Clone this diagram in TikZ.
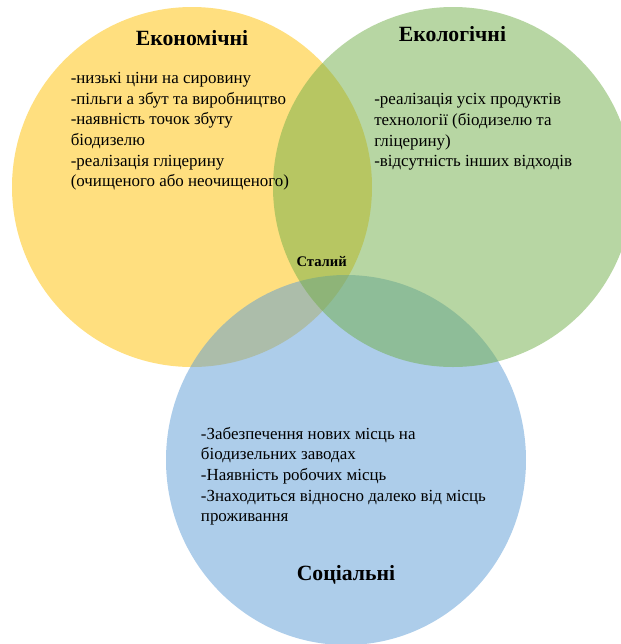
\documentclass[tikz,border=0pt]{standalone}
\usepackage{fontspec}
\setmainfont{Liberation Serif}
\usepackage{tikz}
\definecolor{econcol}{HTML}{FFC000}
\definecolor{ecolcol}{HTML}{70AD47}
\definecolor{soccol}{HTML}{5B9BD5}

\begin{document}
\begin{tikzpicture}[x=0.75pt, y=-0.75pt,
		set/.style={fill opacity=0.5},
		ttl/.style={anchor=base, inner sep=0pt, font=\fontsize{16.3}{19}\selectfont\bfseries},
		body/.style={anchor=base west, inner sep=0pt, align=left, font=\fontsize{12.7}{15.5}\selectfont}]
	
	\useasboundingbox (0,0) rectangle (621,644);
	\clip (0,0) rectangle (621,644);
	
	% the three sets (green lies over blue)
	\fill[set, econcol] (192,187) ellipse [x radius=180, y radius=180];
	\fill[set, soccol] (346,460) ellipse [x radius=180, y radius=185];
	\fill[set, ecolcol] (453,187) ellipse [x radius=180, y radius=180];
	
	\node[ttl] (econ) at (192,45) {Економічні};
	\node[ttl] (ecol) at (452.5,41.7) {Екологічні};
	\node[ttl] (soc) at (346,580) {Соціальні};
	\node[ttl, font=\fontsize{11}{13}\selectfont\bfseries] (stal) at (321.7,266.7) {Сталий};
	
	% lists, placed by the baseline of their last line
	\node[body] (econtxt) at (70.5,186.7) {-низькі ціни на сировину\\
		-пільги а збут та виробництво\\
		-наявність точок збуту\\
		біодизелю\\
		-реалізація гліцерину\\
		(очищеного або неочищеного)};
	
	\node[body] (ecoltxt) at (374,166.7) {-реалізація усіх продуктів\\
		технології (біодизелю та\\
		гліцерину)\\
		-відсутність інших відходів};
	
	\node[body] (soctxt) at (200.7,521.7) {-Забезпечення нових місць на\\
		біодизельних заводах\\
		-Наявність робочих місць\\
		-Знаходиться відносно далеко від місць\\
		проживання};
	
\end{tikzpicture}
\end{document}
